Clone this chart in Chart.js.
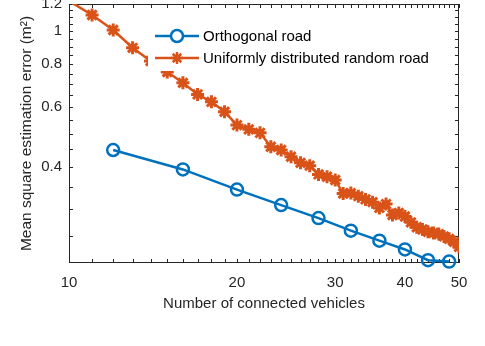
<!DOCTYPE html>
<html>
<head>
<meta charset="utf-8">
<script src="https://cdn.jsdelivr.net/npm/chart.js@4"></script>
<style>
  html, body { margin: 0; padding: 0; background: #fff; }
  canvas { display: block; }
</style>
</head>
<body>
<canvas id="mseChart" width="485" height="346"></canvas>
<script>
const orthoVehicles = [12, 16, 20, 24, 28, 32, 36, 40, 44, 48];
const orthoError = [0.448, 0.393, 0.343, 0.309, 0.283, 0.260, 0.243, 0.229, 0.213, 0.211];

const randomVehicles = [
  10, 11, 12, 13, 14, 15, 16, 17, 18, 19,
  20, 21, 22, 23, 24, 25, 26, 27, 28, 29,
  30, 31, 32, 33, 34, 35, 36, 37, 38, 39,
  40, 41, 42, 43, 44, 45, 46, 47, 48, 49, 50,
];
const randomError = [
  1.225, 1.114, 1.007, 0.893, 0.817, 0.758, 0.705, 0.652, 0.620, 0.580,
  0.530, 0.515, 0.503, 0.458, 0.448, 0.428, 0.411, 0.403, 0.380, 0.374,
  0.366, 0.334, 0.335, 0.328, 0.321, 0.315, 0.303, 0.311, 0.289, 0.293,
  0.286, 0.275, 0.266, 0.262, 0.258, 0.256, 0.254, 0.250, 0.246, 0.241, 0.233,
];

const seriesNames = ["Orthogonal road", "Uniformly distributed random road"];

const xTickLabels = [10, 20, 30, 40, 50];
const yTickLabels = [0.4, 0.6, 0.8, 1, 1.2];
const xMinorTicks = [
  11, 12, 13, 14, 15, 16, 17, 18, 19,
  21, 22, 23, 24, 25, 26, 27, 28, 29,
  31, 32, 33, 34, 35, 36, 37, 38, 39,
  41, 42, 43, 44, 45, 46, 47, 48, 49,
];
const yMinorTicks = [0.25, 0.3, 0.35, 0.45, 0.5, 0.55, 0.65, 0.7, 0.75, 0.85, 0.9, 0.95, 1.05, 1.1, 1.15];

const X_MIN = 10, X_MAX = 50, Y_MIN = 0.209, Y_MAX = 1.2;
const BLUE = "#0072BD";
const ORANGE = "#D95319";
const AXIS = "#262626";
const FONT = "'Liberation Sans', Arial, sans-serif";

Chart.defaults.font.family = FONT;
Chart.defaults.font.size = 15;
Chart.defaults.color = AXIS;

// matlab-style box with inward ticks on all four sides
const axisBox = {
  id: "axisBox",
  beforeDatasetsDraw(chart) {
    const { ctx, chartArea: a, scales: { x, y } } = chart;
    const len = 4;
    ctx.save();
    ctx.strokeStyle = AXIS;
    ctx.lineWidth = 1;
    ctx.beginPath();
    [...xTickLabels, ...xMinorTicks].forEach((v) => {
      const px = Math.round(x.getPixelForValue(v)) + 0.5;
      ctx.moveTo(px, a.bottom);
      ctx.lineTo(px, a.bottom - len);
      ctx.moveTo(px, a.top);
      ctx.lineTo(px, a.top + len);
    });
    [...yTickLabels, ...yMinorTicks].forEach((v) => {
      const py = Math.round(y.getPixelForValue(v)) + 0.5;
      ctx.moveTo(a.left, py);
      ctx.lineTo(a.left + len, py);
      ctx.moveTo(a.right, py);
      ctx.lineTo(a.right - len, py);
    });
    ctx.stroke();
    ctx.strokeRect(a.left + 0.5, a.top + 0.5, a.right - a.left - 1, a.bottom - a.top - 1);
    ctx.restore();
  },
};

// legend drawn inside the axes, on a white patch that hides the line below it
const insideLegend = {
  id: "insideLegend",
  afterDatasetsDraw(chart) {
    const { ctx } = chart;
    ctx.save();
    ctx.fillStyle = "#fff";
    ctx.fillRect(148, 22, 296, 49);
    const rows = [36, 58];
    chart.data.datasets.forEach((ds, i) => {
      const yy = rows[i];
      ctx.strokeStyle = ds.borderColor;
      ctx.lineWidth = ds.borderWidth;
      ctx.beginPath();
      ctx.moveTo(155, yy);
      ctx.lineTo(199, yy);
      ctx.stroke();
      Chart.helpers.drawPoint(ctx, {
        pointStyle: ds.pointStyle,
        radius: 6,
        borderWidth: ds.pointBorderWidth,
      }, 177, yy);
      ctx.fillStyle = "#000";
      ctx.font = "15px " + FONT;
      ctx.textBaseline = "middle";
      ctx.textAlign = "left";
      ctx.fillText(ds.label, 203, yy + 1);
    });
    ctx.restore();
  },
};

new Chart(document.getElementById("mseChart"), {
  type: "line",
  data: {
    datasets: [
      {
        label: seriesNames[0],
        data: orthoVehicles.map((v, i) => ({ x: v, y: orthoError[i] })),
        borderColor: BLUE,
        backgroundColor: "rgba(0,0,0,0)",
        borderWidth: 2.5,
        pointStyle: "circle",
        pointRadius: 6,
        pointBorderWidth: 2.5,
        pointBackgroundColor: "rgba(0,0,0,0)",
        clip: false,
      },
      {
        label: seriesNames[1],
        data: randomVehicles.map((v, i) => ({ x: v, y: randomError[i] })),
        borderColor: ORANGE,
        backgroundColor: ORANGE,
        borderWidth: 2.5,
        pointStyle: "star",
        pointRadius: (c) => (c.raw && c.raw.y > Y_MAX ? 0 : 6.5),
        pointBorderWidth: 3,
      },
    ],
  },
  options: {
    responsive: false,
    animation: false,
    devicePixelRatio: 1,
    layout: { autoPadding: false, padding: { top: 4, right: 26, left: 0, bottom: 0 } },
    plugins: {
      legend: { display: false },
      tooltip: { enabled: false },
    },
    scales: {
      x: {
        type: "logarithmic",
        min: X_MIN,
        max: X_MAX,
        grid: { display: false, drawTicks: false },
        border: { display: false },
        afterBuildTicks: (s) => {
          s.ticks = [...xTickLabels, ...xMinorTicks].sort((a, b) => a - b).map((v) => ({ value: v }));
        },
        ticks: {
          autoSkip: false,
          maxRotation: 0,
          padding: 11,
          callback: (v) => (xTickLabels.includes(v) ? String(v) : ""),
        },
        title: {
          display: true,
          text: "Number of connected vehicles",
          padding: { top: 0, bottom: 33 },
        },
        afterFit: (s) => {
          s.height = 83;
          s.paddingLeft = 0;
          s.paddingRight = 0;
        },
      },
      y: {
        type: "logarithmic",
        min: Y_MIN,
        max: Y_MAX,
        grid: { display: false, drawTicks: false },
        border: { display: false },
        afterBuildTicks: (s) => {
          s.ticks = [...yTickLabels, ...yMinorTicks].sort((a, b) => a - b).map((v) => ({ value: v }));
        },
        ticks: {
          autoSkip: false,
          padding: 7,
          callback: (v) => (yTickLabels.includes(v) ? String(v) : ""),
        },
        title: {
          display: true,
          text: "Mean square estimation error (m\u00B2)",
          font: { size: 15.5 },
          padding: { top: 17, bottom: 0 },
        },
        afterFit: (s) => {
          s.width = 69;
          s.paddingTop = 0;
          s.paddingBottom = 0;
        },
      },
    },
  },
  plugins: [axisBox, insideLegend],
});
</script>
</body>
</html>
